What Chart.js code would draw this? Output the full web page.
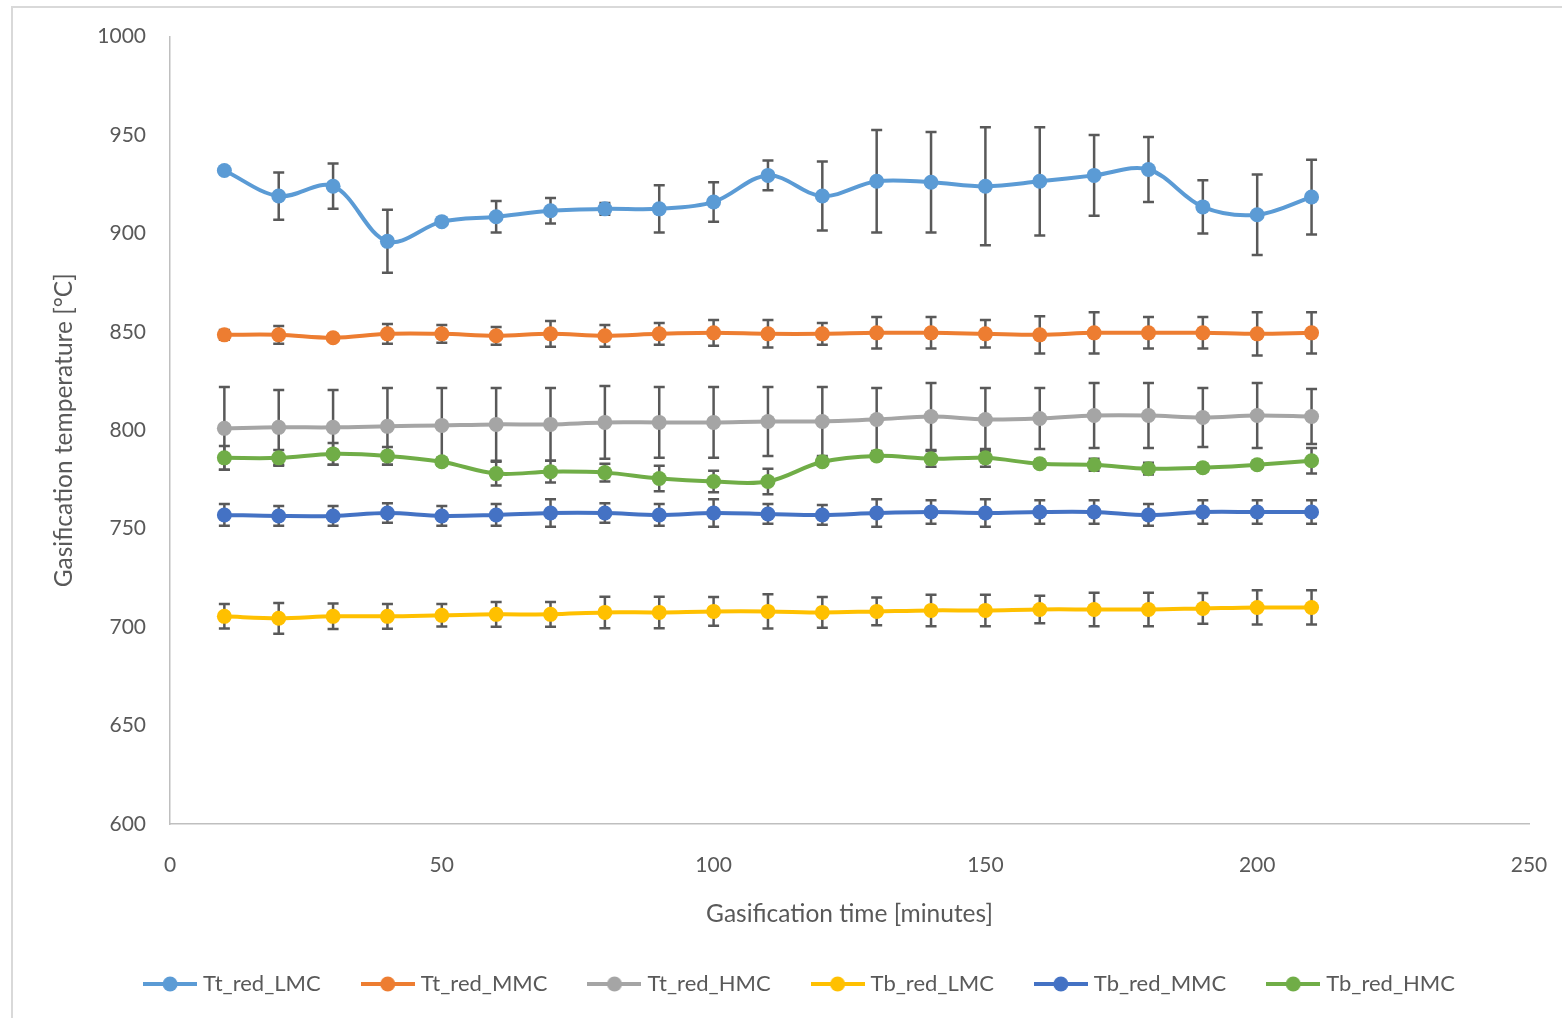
<!DOCTYPE html>
<html>
<head>
<meta charset="utf-8">
<title>Gasification temperature</title>
<script src="https://cdn.jsdelivr.net/npm/chart.js@4.4.1/dist/chart.umd.min.js"></script>
<style>
  body { margin: 0; background: #fff; }
</style>
</head>
<body>
<canvas id="tempChart" width="1563" height="1018"></canvas>
<script>
// gasification time [minutes]
const time = [10, 20, 30, 40, 50, 60, 70, 80, 90, 100, 110, 120, 130, 140, 150, 160, 170, 180, 190, 200, 210];

// temperatures [°C] and +/- error
const ttLMC    = [932, 919, 924, 896, 906, 908.5, 911.5, 912.5, 912.5, 916, 929.5, 919, 926.5, 926, 924, 926.5, 929.5, 932.5, 913.5, 909.5, 918.5];
const ttLMCErr = [1.5, 12, 11.5, 16, 1.5, 8, 6.5, 3, 12, 10, 7.5, 17.5, 26, 25.5, 30, 27.5, 20.5, 16.5, 13.5, 20.5, 19];

const ttMMC    = [848.5, 848.5, 847, 849, 849, 848, 849, 848, 849, 849.5, 849, 849, 849.5, 849.5, 849, 848.5, 849.5, 849.5, 849.5, 849, 849.5];
const ttMMCErr = [2.5, 4.5, 1.5, 5, 4.5, 4.5, 6.5, 5.5, 5.5, 6.5, 7, 5.5, 8, 8, 7, 9.5, 10.5, 8, 8, 11, 10.5];

const ttHMC    = [801, 801.5, 801.5, 802, 802.5, 803, 803, 804, 804, 804, 804.5, 804.5, 805.5, 807, 805.5, 806, 807.5, 807.5, 806.5, 807.5, 807];
const ttHMCErr = [21, 19, 19, 19.5, 19, 18.5, 18.5, 18.5, 18, 18, 17.5, 17.5, 16, 17, 16, 15.5, 16.5, 16.5, 15, 16.5, 14];

const tbLMC    = [705.5, 704.5, 705.5, 705.5, 706, 706.5, 706.5, 707.5, 707.5, 708, 708, 707.5, 708, 708.5, 708.5, 709, 709, 709, 709.5, 710, 710];
const tbLMCErr = [6.2, 7.8, 6.5, 6.3, 5.7, 6.3, 6.3, 8, 8, 7.3, 8.7, 7.8, 7, 8, 8, 7, 8.5, 8.5, 7.8, 8.7, 8.7];

const tbMMC    = [757, 756.5, 756.5, 758, 756.5, 757, 758, 758, 757, 758, 757.5, 757, 758, 758.5, 758, 758.5, 758.5, 757, 758.5, 758.5, 758.5];
const tbMMCErr = [5.5, 5, 5, 5, 5, 5.5, 7, 5, 5.5, 7, 5, 5, 7, 6, 7, 6, 6, 5.5, 6, 6, 6];

const tbHMC    = [786, 786, 788, 787, 784, 778, 779, 778.5, 775.5, 774, 774, 784, 787, 785.5, 786, 783, 782.5, 780.5, 781, 782.5, 784.5];
const tbHMCErr = [6, 4, 5.5, 4.5, 2, 6, 5.5, 4.5, 6.5, 5.5, 6.5, 2, 2, 4, 4.5, 2, 3, 3, 2, 2, 6.5];

const seriesNames = ['Tt_red_LMC', 'Tt_red_MMC', 'Tt_red_HMC', 'Tb_red_LMC', 'Tb_red_MMC', 'Tb_red_HMC'];
const seriesValues = [ttLMC, ttMMC, ttHMC, tbLMC, tbMMC, tbHMC];
const seriesErrors = [ttLMCErr, ttMMCErr, ttHMCErr, tbLMCErr, tbMMCErr, tbHMCErr];
const seriesColors = ['#5B9BD5', '#ED7D31', '#A5A5A5', '#FFC000', '#4472C4', '#70AD47'];

const FONT = 'Lato';
const TEXT = '#595959';

// legend symbol: short line with a dot in the middle
function legendSymbol(color) {
    const c = document.createElement('canvas');
    c.width = 54;
    c.height = 16;
    const g = c.getContext('2d');
    g.strokeStyle = color;
    g.lineWidth = 4;
    g.beginPath();
    g.moveTo(0, 8);
    g.lineTo(54, 8);
    g.stroke();
    g.fillStyle = color;
    g.beginPath();
    g.arc(27, 8, 7.5, 0, Math.PI * 2);
    g.fill();
    return c;
}

const datasets = seriesNames.map((name, k) => ({
    label: name,
    data: time.map((t, i) => ({ x: t, y: seriesValues[k][i] })),
    errors: seriesErrors[k],
    borderColor: seriesColors[k],
    backgroundColor: seriesColors[k],
    borderWidth: 4,
    pointRadius: 7.5,
    pointHoverRadius: 7.5,
    pointBorderWidth: 0,
    tension: 0.35,
    order: seriesNames.length - k   // later series drawn on top, like Excel
}));

// vertical error bars with caps
const errorBars = {
    id: 'errorBars',
    beforeDatasetsDraw(chart) {
        const ctx = chart.ctx;
        const xs = chart.scales.x;
        const ys = chart.scales.y;
        ctx.save();
        ctx.strokeStyle = '#595959';
        ctx.lineWidth = 2.5;
        chart.data.datasets.forEach(ds => {
            ds.data.forEach((p, i) => {
                const e = ds.errors[i];
                const x = xs.getPixelForValue(p.x);
                const top = ys.getPixelForValue(p.y + e);
                const bot = ys.getPixelForValue(p.y - e);
                ctx.beginPath();
                ctx.moveTo(x, top); ctx.lineTo(x, bot);
                ctx.moveTo(x - 5.5, top); ctx.lineTo(x + 5.5, top);
                ctx.moveTo(x - 5.5, bot); ctx.lineTo(x + 5.5, bot);
                ctx.stroke();
            });
        });
        ctx.restore();
    }
};

// light frame of the chart object + small nudge of the legend
const frame = {
    id: 'frame',
    afterLayout(chart) {
        const lg = chart.legend;
        lg.left += 37;
        lg.right += 37;
        lg.top -= 13;
        lg.bottom -= 13;
    },
    beforeDraw(chart) {
        const ctx = chart.ctx;
        ctx.save();
        ctx.fillStyle = '#fff';
        ctx.fillRect(0, 0, chart.width, chart.height);
        ctx.fillStyle = '#D9D9D9';
        ctx.fillRect(11, 6, chart.width - 12, 2);
        ctx.fillRect(11, 6, 2, chart.height - 6);
        ctx.restore();
    }
};

const ctx = document.getElementById('tempChart').getContext('2d');
const tempChart = new Chart(ctx, {
    type: 'line',
    data: { datasets: datasets },
    options: {
        responsive: false,
        animation: false,
        layout: { padding: { top: 36, right: 34, bottom: 0, left: 0 } },
        scales: {
            x: {
                type: 'linear',
                min: 0,
                max: 250,
                ticks: { stepSize: 50, padding: 29, color: TEXT, font: { family: FONT, size: 21 } },
                grid: { display: false, drawTicks: false },
                border: { color: '#BFBFBF', width: 1.5 },
                title: {
                    display: true,
                    text: 'Gasification time [minutes]',
                    color: TEXT,
                    font: { family: FONT, size: 24.5 },
                    padding: { top: 0, bottom: 12 }
                },
                afterFit(scale) {
                    scale.height = 117;
                    scale.paddingLeft = 0;
                    scale.paddingRight = 0;
                }
            },
            y: {
                min: 600,
                max: 1000,
                ticks: {
                    stepSize: 50,
                    padding: 24,
                    color: TEXT,
                    font: { family: FONT, size: 21 },
                    callback: v => String(v)
                },
                grid: { display: false, drawTicks: false },
                border: { color: '#BFBFBF', width: 1.5 },
                title: {
                    display: true,
                    text: 'Gasification temperature [°C]',
                    color: TEXT,
                    font: { family: FONT, size: 24.5 },
                    padding: { top: 49, bottom: 0 }
                },
                afterFit(scale) { scale.width = 170; }
            }
        },
        plugins: {
            tooltip: { enabled: false },
            legend: {
                position: 'bottom',
                labels: {
                    usePointStyle: true,
                    pointStyleWidth: 44,
                    padding: 45,
                    color: TEXT,
                    font: { family: FONT, size: 22 },
                    generateLabels(chart) {
                        return chart.data.datasets.map((ds, i) => ({
                            text: ds.label,
                            datasetIndex: i,
                            fillStyle: ds.borderColor,
                            strokeStyle: ds.borderColor,
                            lineWidth: 0,
                            fontColor: TEXT,
                            hidden: false,
                            pointStyle: legendSymbol(ds.borderColor)
                        }));
                    }
                }
            }
        }
    },
    plugins: [errorBars, frame]
});
</script>
</body>
</html>
